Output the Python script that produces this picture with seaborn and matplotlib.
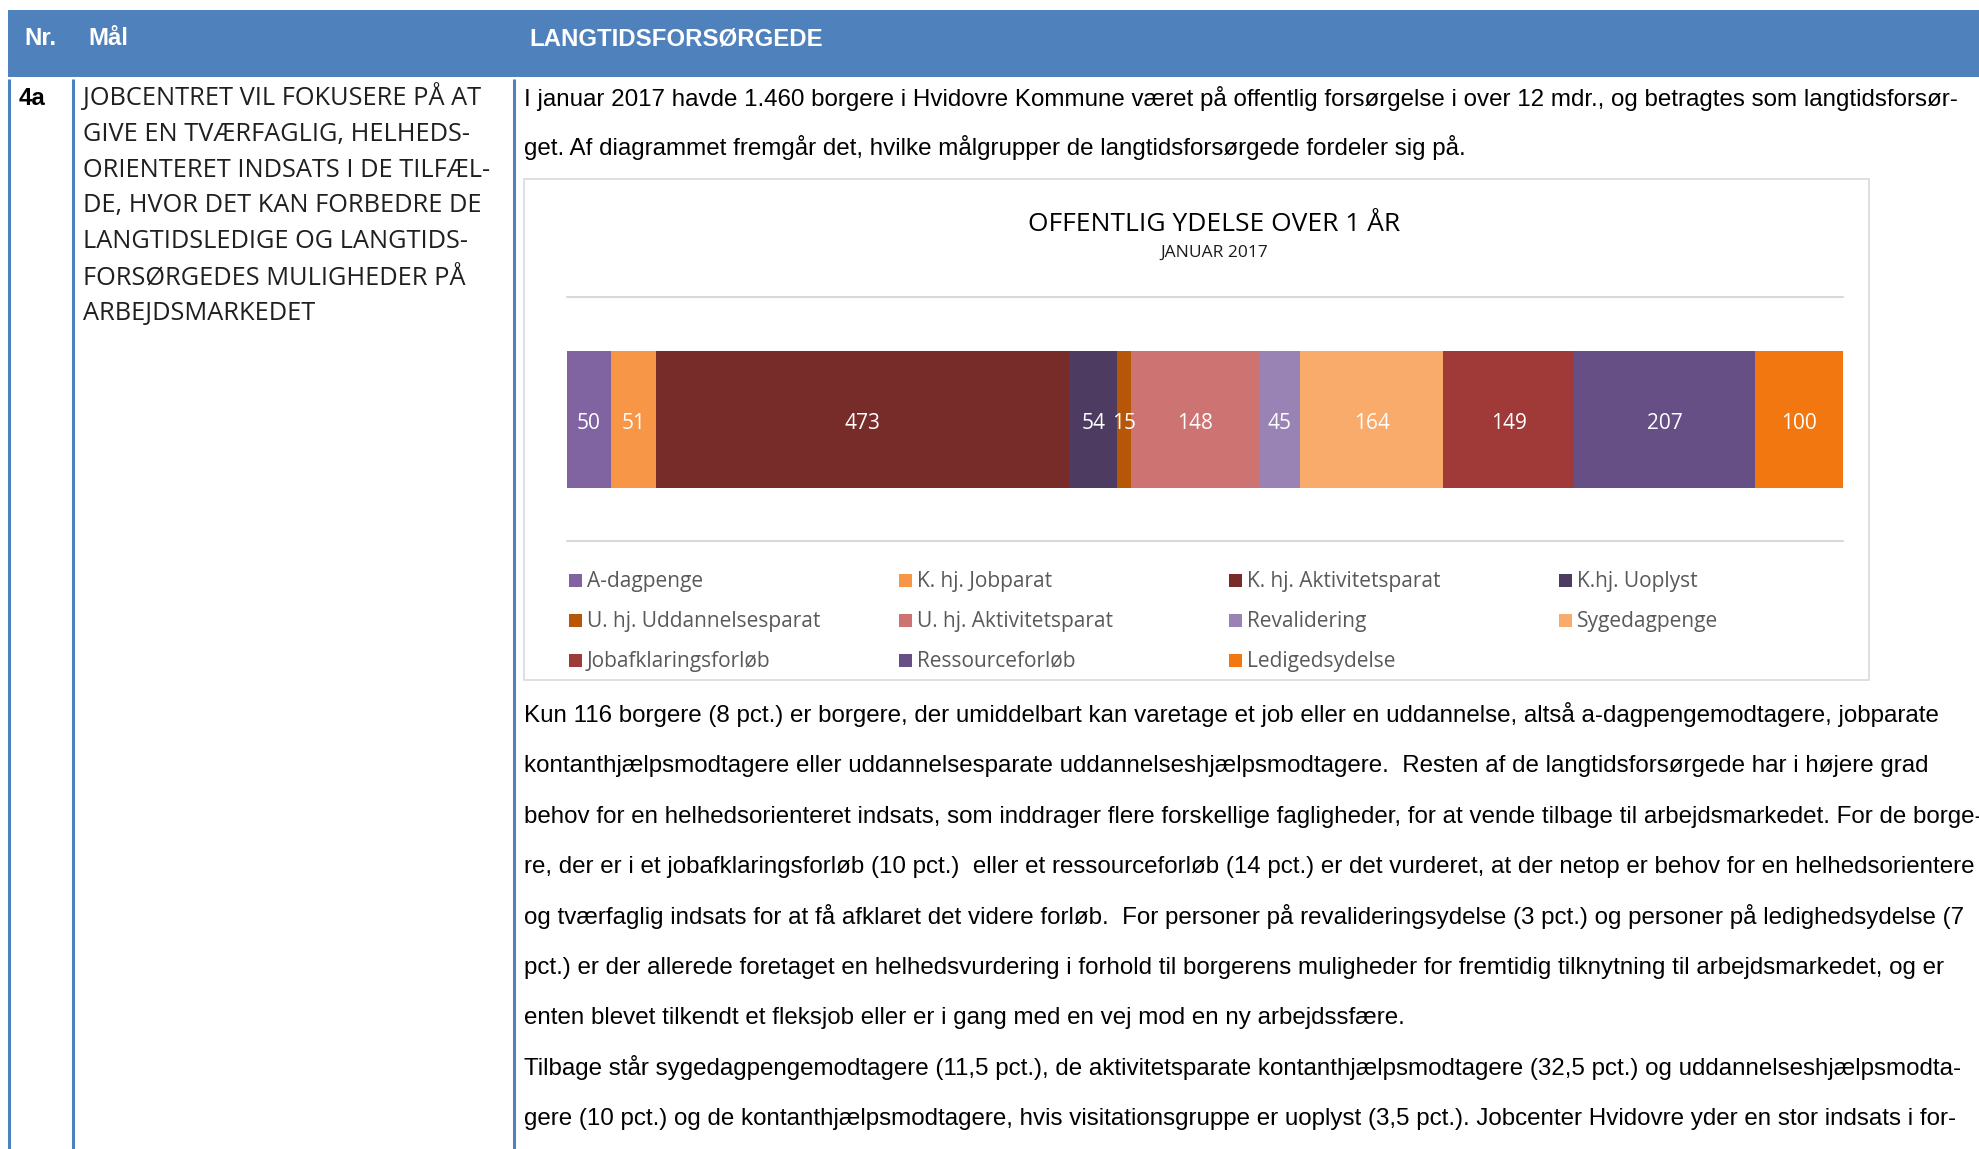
import numpy as np
import pandas as pd
import matplotlib
matplotlib.use("Agg")
import matplotlib.pyplot as plt
import seaborn as sns
from matplotlib import font_manager
from matplotlib.patches import Rectangle

# DATA

categories = ["A-dagpenge", "K. hj. Jobparat", "K. hj. Aktivitetsparat", "K.hj. Uoplyst",
              "U. hj. Uddannelsesparat", "U. hj. Aktivitetsparat", "Revalidering", "Sygedagpenge",
              "Jobafklaringsforløb", "Ressourceforløb", "Ledigedsydelse"]
values = [50, 51, 473, 54, 15, 148, 45, 164, 149, 207, 100]
colors = ["#8064A2", "#F79646", "#772C2A", "#4D3B62", "#B65708", "#CD7371",
          "#9983B5", "#F9AB6B", "#A03A38", "#664F85", "#F27710"]

chart_title = "OFFENTLIG YDELSE OVER 1 ÅR"
chart_subtitle = "JANUAR 2017"

header_labels = ["Nr.", "Mål", "LANGTIDSFORSØRGEDE"]
row_number = "4a"

goal_lines = ["JOBCENTRET VIL FOKUSERE PÅ AT",
              "GIVE EN TVÆRFAGLIG, HELHEDS-",
              "ORIENTERET INDSATS I DE TILFÆL-",
              "DE, HVOR DET KAN FORBEDRE DE",
              "LANGTIDSLEDIGE OG LANGTIDS-",
              "FORSØRGEDES MULIGHEDER PÅ",
              "ARBEJDSMARKEDET"]

intro_lines = ["I januar 2017 havde 1.460 borgere i Hvidovre Kommune været på offentlig forsørgelse i over 12 mdr., og betragtes som langtidsforsør-",
               "get. Af diagrammet fremgår det, hvilke målgrupper de langtidsforsørgede fordeler sig på."]

body_lines = ["Kun 116 borgere (8 pct.) er borgere, der umiddelbart kan varetage et job eller en uddannelse, altså a-dagpengemodtagere, jobparate",
              "kontanthjælpsmodtagere eller uddannelsesparate uddannelseshjælpsmodtagere.  Resten af de langtidsforsørgede har i højere grad",
              "behov for en helhedsorienteret indsats, som inddrager flere forskellige fagligheder, for at vende tilbage til arbejdsmarkedet. For de borge-",
              "re, der er i et jobafklaringsforløb (10 pct.)  eller et ressourceforløb (14 pct.) er det vurderet, at der netop er behov for en helhedsorientere",
              "og tværfaglig indsats for at få afklaret det videre forløb.  For personer på revalideringsydelse (3 pct.) og personer på ledighedsydelse (7",
              "pct.) er der allerede foretaget en helhedsvurdering i forhold til borgerens muligheder for fremtidig tilknytning til arbejdsmarkedet, og er",
              "enten blevet tilkendt et fleksjob eller er i gang med en vej mod en ny arbejdssfære.",
              "Tilbage står sygedagpengemodtagere (11,5 pct.), de aktivitetsparate kontanthjælpsmodtagere (32,5 pct.) og uddannelseshjælpsmodta-",
              "gere (10 pct.) og de kontanthjælpsmodtagere, hvis visitationsgruppe er uoplyst (3,5 pct.). Jobcenter Hvidovre yder en stor indsats i for-"]

# PAGE SETUP

W, H, DPI = 1979, 1149, 100
BLUE = "#4F81BD"
GRID = "#D9D9D9"

sns.set_theme(style="white")
installed = {f.name for f in font_manager.fontManager.ttflist}
narrow = "Liberation Sans Narrow" if "Liberation Sans Narrow" in installed else "Liberation Sans"
is_narrow = narrow == "Liberation Sans Narrow"
body_size = 19 if is_narrow else 17.4
head_size = 19 if is_narrow else 17.3
plt.rcParams["font.family"] = ["Open Sans", "DejaVu Sans"]

fig = plt.figure(figsize=(W / DPI, H / DPI), dpi=DPI)
fig.patch.set_facecolor("white")

# background axes in pixel coordinates
bg = fig.add_axes([0, 0, 1, 1])
bg.set_xlim(0, W)
bg.set_ylim(H, 0)
bg.axis("off")

# table header
bg.add_patch(Rectangle((8, 10), W - 8, 67, color=BLUE, lw=0))
for x, lab in zip([24, 88, 529], header_labels):
    bg.text(x, 45, lab, color="white", fontsize=head_size, fontweight="bold",
            family=[narrow, "DejaVu Sans"], va="baseline")

# column lines
for x in [9, 73, 514]:
    bg.plot([x, x], [79, H], color=BLUE, lw=2.2, solid_capstyle="butt")

bg.text(19, 105, row_number, fontsize=head_size, fontweight="bold", family=[narrow, "DejaVu Sans"],
        va="baseline", color="black")

for i, line in enumerate(goal_lines):
    bg.text(83, 105 + 35.8 * i, line, fontsize=18.3, fontweight="normal",
            family=["Open Sans", "DejaVu Sans"], va="baseline", color="#1F1F1F")

for i, line in enumerate(intro_lines):
    bg.text(524, 106 + 49 * i, line, fontsize=body_size, family=[narrow, "DejaVu Sans"],
            va="baseline", color="black")

for i, line in enumerate(body_lines):
    bg.text(524, 722 + 50.4 * i, line, fontsize=body_size, family=[narrow, "DejaVu Sans"],
            va="baseline", color="black")

# chart frame
bg.add_patch(Rectangle((524, 179), 1345, 501, fill=False, edgecolor=GRID, lw=1.2))
bg.plot([567, 1843], [297, 297], color=GRID, lw=1.5)
bg.plot([567, 1843], [541, 541], color=GRID, lw=1.5)
bg.text(1214, 231, chart_title, ha="center", va="baseline", fontsize=19, color="black")
bg.text(1214, 257, chart_subtitle, ha="center", va="baseline", fontsize=12.5, color="#1A1A1A")

# STACKED BAR

ends = np.cumsum(values)
df = pd.DataFrame({"group": categories, "value": values, "end": ends, "row": ["2017"] * len(values)})
palette = dict(zip(categories, colors))

ax = fig.add_axes([567 / W, 1 - 488 / H, (1843 - 567) / W, (488 - 351) / H])
sns.barplot(data=df, x="end", y="row", hue="group", hue_order=categories[::-1],
            palette=palette, dodge=False, width=1, saturation=1, errorbar=None,
            legend=False, orient="h", ax=ax, linewidth=0)
ax.set_xlim(0, ends[-1])
ax.set_ylim(0.5, -0.5)
ax.axis("off")

for v, e in zip(values, ends):
    ax.text(e - v / 2, 0.03, str(v), ha="center", va="center", color="white", fontsize=15)

# legend, row-major in four columns
for i, (lab, c) in enumerate(zip(categories, colors)):
    r, col = divmod(i, 4)
    x0 = 569 + 330 * col
    y0 = 580 + 40 * r
    bg.add_patch(Rectangle((x0, y0 - 6), 13, 13, color=c, lw=0))
    bg.text(x0 + 18, y0 + 1, lab, va="center", fontsize=15, color="#595959")

fig.savefig("out.png", dpi=DPI)
